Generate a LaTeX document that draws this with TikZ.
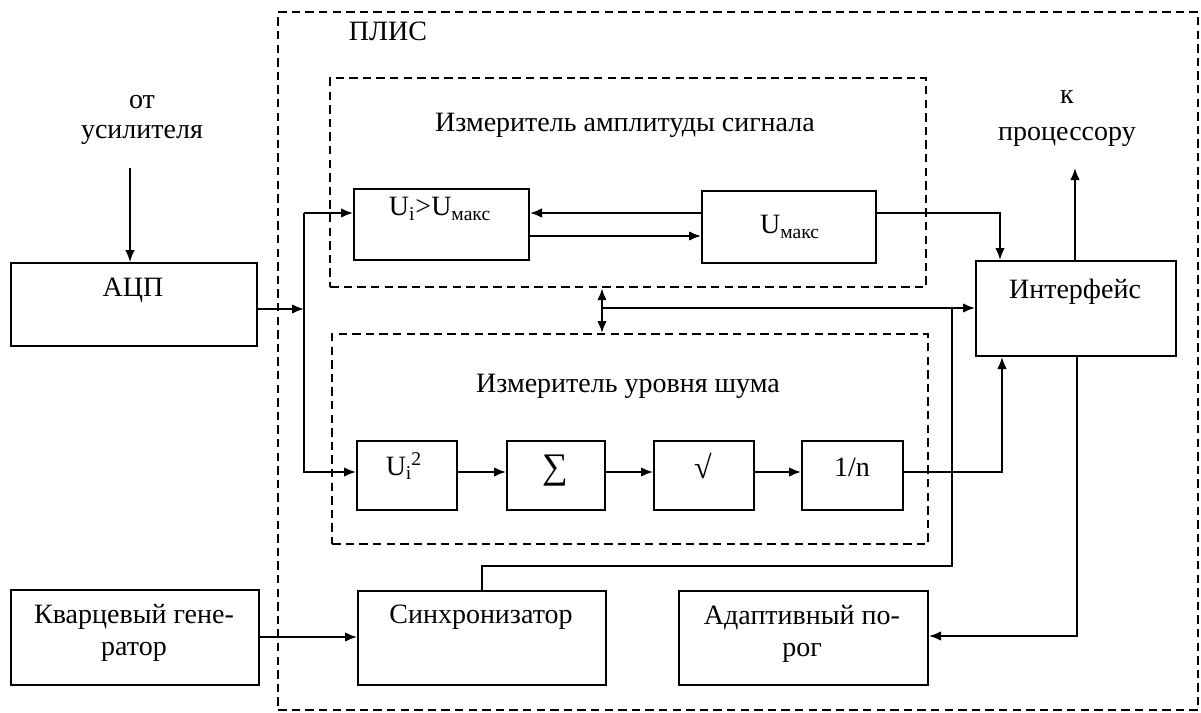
\documentclass[tikz,border=0pt]{standalone}
\usepackage{fontspec}
\setmainfont{Liberation Serif}
\usetikzlibrary{arrows.meta}
\begin{document}
\begin{tikzpicture}[x=0.5pt,y=-0.5pt,
  blk/.style={draw, line width=1pt, anchor=north west, inner sep=0pt},
  dbox/.style={draw, line width=1.1pt, dash pattern=on 4.2pt off 2.6pt, anchor=north west, inner sep=0pt},
  txt/.style={font=\fontsize{14}{16}\selectfont, align=center, inner sep=0pt},
  arr/.style={line width=1pt, -{Latex[length=6pt,width=4.8pt]}},
  darr/.style={line width=1pt, {Latex[length=6pt,width=4.8pt]}-{Latex[length=6pt,width=4.8pt]}},
  ln/.style={line width=1pt}]
\useasboundingbox (0,0) rectangle (1201,713);
\fill[white] (0,0) rectangle (1201,713);

% dashed frames
\node[dbox, minimum width=460pt, minimum height=349pt] (plis) at (277,11) {};
\node[dbox, minimum width=298pt, minimum height=104.5pt] (ampm) at (329,77) {};
\node[dbox, minimum width=298pt, minimum height=105pt] (noisem) at (331,333) {};
\node[txt] (plis-t) at (388,31) {ПЛИС};
\node[txt] (ampm-t) at (625,125) {Измеритель амплитуды сигнала};
\node[txt] (noisem-t) at (628,386) {Измеритель уровня шума};

% blocks
\node[blk, minimum width=123pt, minimum height=41.5pt] (adc) at (10,262) {};
\node[blk, minimum width=87.5pt, minimum height=35.5pt] (cmp) at (353,188) {};
\node[blk, minimum width=87pt, minimum height=36pt] (umax) at (701,190) {};
\node[blk, minimum width=100pt, minimum height=47.5pt] (intf) at (975,260) {};
\node[blk, minimum width=50pt, minimum height=34.5pt] (sq) at (356,440) {};
\node[blk, minimum width=49pt, minimum height=34.5pt] (sum) at (506,440) {};
\node[blk, minimum width=50pt, minimum height=34.5pt] (sqrt) at (653,440) {};
\node[blk, minimum width=50.5pt, minimum height=34.5pt] (inv) at (801,440) {};
\node[blk, minimum width=124pt, minimum height=47.5pt] (osc) at (10,589) {};
\node[blk, minimum width=124pt, minimum height=47pt] (sync) at (357,590) {};
\node[blk, minimum width=124.5pt, minimum height=47pt] (adapt) at (678,590) {};

% block texts
\node[txt] (adc-t) at (133,290) {АЦП};
\node[txt] (cmp-t) at (440,209) {U\textsubscript{i}>U\textsubscript{макс}};
\node[txt] (umax-t) at (790,227) {U\textsubscript{макс}};
\node[txt] (intf-t) at (1075,292) {Интерфейс};
\node[txt] (sq-t) at (404,466) {U\textsubscript{i}\kern-0.5pt\textsuperscript{2}};
\node[txt, font=\fontsize{18}{18}\selectfont] (sum-t) at (555,471) {∑};
\node[txt, font=\fontsize{16}{16}\selectfont] (sqrt-t) at (703,466) {√};
\node[txt] (inv-t) at (852,467) {1/n};
\node[txt] (osc-t) at (134,633) {Кварцевый гене-\\ратор};
\node[txt] (sync-t) at (481,617) {Синхронизатор};
\node[txt] (adapt-t) at (802,634) {Адаптивный по-\\рог};

% outside labels
\node[txt, font=\fontsize{14}{15}\selectfont] (amp-t) at (142,120) {от\\усилителя};
\node[txt, font=\fontsize{14}{18.5}\selectfont] (proc-t) at (1067,119) {к\\процессору};

% coordinates
\coordinate (amp) at (130,168);
\coordinate (proc) at (1075,168);
\coordinate (jA) at (304,213);
\coordinate (jM) at (304,309);
\coordinate (jB) at (304,472);
\coordinate (yU2) at (0,236);
\coordinate (kU) at (1000,213);
\coordinate (dX) at (602,308);
\coordinate (s1) at (482,566);
\coordinate (s2) at (952,566);
\coordinate (s3) at (952,308);
\coordinate (k2) at (1002,472);
\coordinate (k3) at (1077,636);
\coordinate (yK) at (0,637);

% connectors
\draw[arr, line width=0.7pt] (amp) -- (amp |- adc.north);
\draw[arr] (adc.east |- jM) -- (jM);
\draw[arr] (jA) -- (cmp.west |- jA);
\draw[arr] (jA) -- (jB) -- (sq.west |- jB);
\draw[arr] (umax.west |- jA) -- (cmp.east |- jA);
\draw[arr] (cmp.east |- yU2) -- (umax.west |- yU2);
\draw[arr] (umax.east |- kU) -- (kU) -- (kU |- intf.north);
\draw[arr] (intf.north -| proc) -- (proc);
\draw[darr] (ampm.south -| dX) -- (noisem.north -| dX);
\draw[arr] (dX) -- (intf.west |- dX);
\draw[ln] (sync.north -| s1) -- (s1) -- (s2) -- (s3);
\draw[arr] (sq.east |- jB) -- (sum.west |- jB);
\draw[arr] (sum.east |- jB) -- (sqrt.west |- jB);
\draw[arr] (sqrt.east |- jB) -- (inv.west |- jB);
\draw[arr] (inv.east |- k2) -- (k2) -- (k2 |- intf.south);
\draw[arr] (intf.south -| k3) -- (k3) -- (adapt.east |- k3);
\draw[arr] (osc.east |- yK) -- (sync.west |- yK);
\end{tikzpicture}
\end{document}
